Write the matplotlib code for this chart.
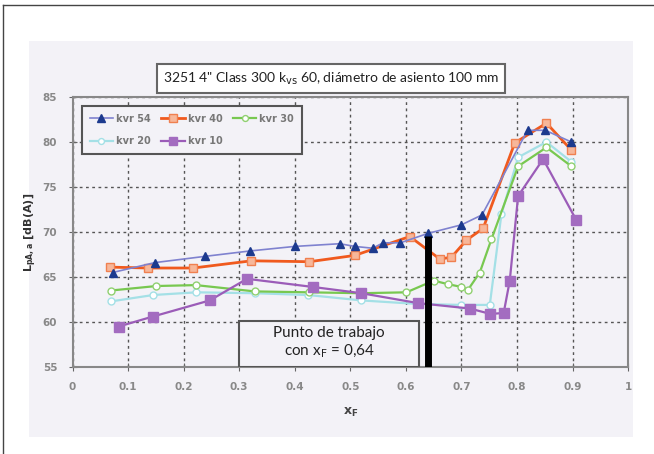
import matplotlib.pyplot as plt
from matplotlib.patches import Rectangle
from matplotlib.lines import Line2D

# data
kv54_x = [0.072, 0.148, 0.239, 0.320, 0.400, 0.481, 0.508, 0.540, 0.559, 0.590, 0.640, 0.700, 0.737, 0.819, 0.851, 0.898]
kv54_y = [65.5, 66.6, 67.3, 67.9, 68.4, 68.7, 68.4, 68.2, 68.8, 68.8, 69.85, 70.8, 71.9, 81.3, 81.3, 80.0]

kv40_x = [0.067, 0.136, 0.217, 0.322, 0.426, 0.508, 0.607, 0.661, 0.682, 0.709, 0.739, 0.796, 0.853, 0.898]
kv40_y = [66.1, 66.0, 66.0, 66.8, 66.7, 67.4, 69.5, 67.0, 67.2, 69.1, 70.4, 79.9, 82.1, 79.1]

kv30_x = [0.069, 0.151, 0.222, 0.328, 0.425, 0.520, 0.601, 0.650, 0.676, 0.700, 0.712, 0.733, 0.754, 0.802, 0.853, 0.898]
kv30_y = [63.5, 64.0, 64.1, 63.4, 63.3, 63.2, 63.3, 64.6, 64.2, 63.9, 63.6, 65.5, 69.2, 77.3, 79.4, 77.3]

kv20_x = [0.070, 0.145, 0.223, 0.328, 0.424, 0.520, 0.622, 0.700, 0.751, 0.772, 0.802, 0.853, 0.898]
kv20_y = [62.3, 63.0, 63.3, 63.2, 63.0, 62.4, 62.0, 61.9, 61.9, 72.0, 78.3, 80.0, 77.8]

kv10_x = [0.083, 0.144, 0.247, 0.314, 0.432, 0.520, 0.622, 0.715, 0.752, 0.776, 0.787, 0.802, 0.847, 0.907]
kv10_y = [59.5, 60.6, 62.4, 64.8, 63.9, 63.2, 62.1, 61.5, 60.9, 61.0, 64.6, 74.0, 78.1, 71.3]

labels = ['kvr 54', 'kvr 40', 'kvr 30', 'kvr 20', 'kvr 10']
work_x = 0.64
work_top = 69.6
x_ticks = [0, 0.1, 0.2, 0.3, 0.4, 0.5, 0.6, 0.7, 0.8, 0.9, 1]
x_ticklabels = ['0', '0.1', '0.2', '0.3', '0.4', '0.5', '0.6', '0.7', '0.8', '0.9', '1']
y_ticks = [55, 60, 65, 70, 75, 80, 85]

panel = '#f3f2f7'

fig = plt.figure(figsize=(6.54, 4.54), dpi=100)
fig.patch.set_facecolor('white')

# grey panel behind the chart
fig.patches.append(Rectangle((0.044, 0.037), 0.924, 0.872, transform=fig.transFigure,
                             facecolor=panel, edgecolor='none', zorder=-5))
# outer frame (top and left)
fig.add_artist(Line2D([0.005, 0.005], [0.0, 0.989], transform=fig.transFigure, color='#444', lw=1))
fig.add_artist(Line2D([0.005, 1.0], [0.989, 0.989], transform=fig.transFigure, color='#444', lw=1))

ax = fig.add_axes([0.111, 0.1916, 0.8494, 0.5947])
ax.set_zorder(2)
ax.set_facecolor(panel)

l54, = ax.plot(kv54_x, kv54_y, color='#7f82cf', lw=1.2, marker='^', ms=6,
               mfc='#1c3a8e', mec='#1c3a8e', label=labels[0], zorder=6)
l40, = ax.plot(kv40_x, kv40_y, color='#f05a1e', lw=2.0, marker='s', ms=6,
               mfc='#f7b79a', mec='#f08050', label=labels[1], zorder=5)
l30, = ax.plot(kv30_x, kv30_y, color='#78c850', lw=1.6, marker='o', ms=5,
               mfc='white', mec='#90d070', label=labels[2], zorder=4)
l20, = ax.plot(kv20_x, kv20_y, color='#a4e0e6', lw=1.6, marker='o', ms=5,
               mfc='white', mec='#a4e0e6', label=labels[3], zorder=3)
l10, = ax.plot(kv10_x, kv10_y, color='#9b5cb8', lw=1.6, marker='s', ms=7,
               mfc='#a36cc0', mec='#a36cc0', label=labels[4], zorder=4)

# working point bar
ax.plot([work_x, work_x], [55, work_top], color='black', lw=5, solid_capstyle='butt', zorder=8)

# annotation box
ax.add_patch(Rectangle((0.30, 55), 0.323, 5.1, facecolor=panel, edgecolor='#555',
                       lw=1.5, zorder=7))
ax.text(0.462, 58.8, 'Punto de trabajo', ha='center', va='center', fontsize=11,
        family='Lato', color='#222', zorder=9)
ax.text(0.462, 56.7, 'con x$_\\mathrm{F}$ = 0,64', ha='center', va='center', fontsize=11,
        family='Lato', color='#222', zorder=9)

ax.set_xlim(0, 1)
ax.set_ylim(55, 85)
ax.set_xticks(x_ticks)
ax.set_xticklabels(x_ticklabels)
ax.set_yticks(y_ticks)
ax.grid(True, color='#555', linestyle=(0, (2, 2.5)), lw=1)
ax.set_axisbelow(True)
ax.tick_params(direction='inout', length=6, color='#666', labelsize=7.5,
               labelcolor='#888', pad=8)
for lab in ax.get_xticklabels() + ax.get_yticklabels():
    lab.set_fontweight('bold')
for sp in ax.spines.values():
    sp.set_color('#888')
    sp.set_linewidth(1.5)

ax.set_xlabel('x$_\\mathbf{F}$', fontsize=9, fontweight='bold', color='#444', labelpad=10)
ax.set_ylabel('L$_\\mathbf{pA,a}$ [dB(A)]', fontsize=8, fontweight='bold', color='#333', labelpad=3)

# row-wise order: 54 40 30 / 20 10
handles = [l54, l20, l40, l10, l30]
leg = ax.legend(handles, [h.get_label() for h in handles], loc='upper left', ncol=3,
                bbox_to_anchor=(0.008, 0.985), fontsize=7, frameon=True, fancybox=False,
                handlelength=2.4, handletextpad=0.3, columnspacing=1.1, borderpad=0.8,
                labelspacing=1.3, markerscale=0.85)
leg.get_frame().set_edgecolor('#555')
leg.get_frame().set_linewidth(1.5)
leg.get_frame().set_facecolor(panel)
leg.get_frame().set_alpha(1)
for t in leg.get_texts():
    t.set_color('#777')
    t.set_fontweight('bold')

fig.text(0.506, 0.827, '3251 4" Class 300 k$_\\mathrm{vs}$ 60, diámetro de asiento 100 mm',
         ha='center', va='center', fontsize=10, family='Lato', color='#222',
         bbox=dict(boxstyle='square,pad=0.45', facecolor='white', edgecolor='#666', lw=1.5))

fig.savefig('out.png', dpi=100)
